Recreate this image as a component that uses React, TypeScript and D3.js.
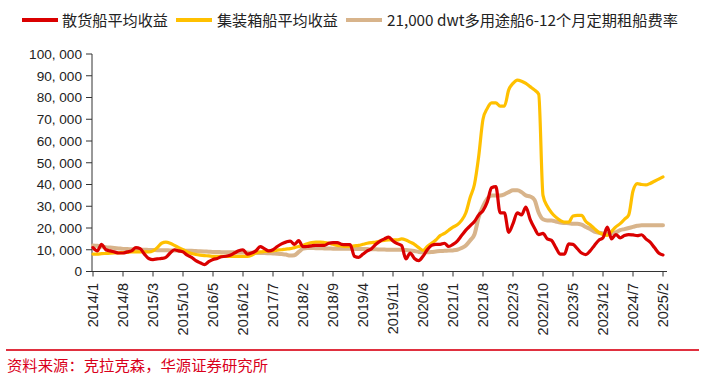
import React from "react";
import * as d3 from "d3";

const startYear = 2014;
const monthCount = 134;
const months: string[] = Array.from({ length: monthCount }, (_, i) => `${startYear + Math.floor(i / 12)}/${(i % 12) + 1}`);

const tickLabels = ["2014/1","2014/8","2015/3","2015/10","2016/5","2016/12","2017/7","2018/2","2018/9","2019/4","2019/11","2020/6","2021/1","2021/8","2022/3","2022/10","2023/5","2023/12","2024/7","2025/2"];
const yTicks = [0, 10000, 20000, 30000, 40000, 50000, 60000, 70000, 80000, 90000, 100000];

const seriesNames = ["散货船平均收益", "集装箱船平均收益", "21,000 dwt多用途船6-12个月定期租船费率"];

// values in thousand USD/day
const bulk = [
  11, 9.5, 12.5, 10, 9.5, 9, 8.5, 8.5, 9, 9.5, 11, 10.5,
  8, 6, 5.5, 5.8, 6, 6.5, 8.5, 10, 9.5, 9, 7.5, 6.5,
  5, 4, 3.2, 4.5, 5.5, 6, 6.8, 7, 7.5, 8.5, 9.5, 10,
  8, 8.5, 9.5, 11.4, 10.5, 9.5, 10, 11.5, 12.7, 13.5, 14, 12.5,
  14.2, 11.4, 11.5, 11.8, 12, 12, 12, 13, 13.3, 13.3, 12.5, 12.4,
  12.4, 7, 6.5, 8, 9.5, 10.5, 12.5, 14, 15, 15.8, 14, 12.8,
  12, 5.8, 8.5, 6, 5, 7, 10, 12, 12.5, 12.5, 13, 11.5,
  12.5, 14, 16.5, 19, 21, 23, 26, 28, 32, 38.5, 39, 27,
  27, 18, 22, 27, 26, 29.6, 24, 20, 17, 17.5, 15, 14.3,
  11, 8, 8, 12.7, 12.5, 10.5, 8.5, 7.8, 9.5, 12, 14.3, 15.5,
  20.4, 15, 17, 15.5, 16.5, 17, 16.8, 16.5, 16.9, 15, 13.5, 11,
  8.5, 7.6,
];

const container = [
  8, 8, 8.2, 8.3, 8.4, 8.5, 8.6, 8.7, 8.8, 9, 9, 9,
  9, 9, 9.5, 11, 13, 13.5, 13, 12, 11, 10, 9, 8.3,
  7.8, 7.5, 7.3, 7.2, 7, 7, 7, 7, 7, 7, 7, 7,
  7, 7.5, 8.5, 9, 9.2, 9.3, 9.5, 9.8, 10, 10.3, 10.5, 11,
  11.5, 12, 12.8, 13.3, 13.5, 13.5, 13.3, 13, 12.5, 12, 11.8, 11.5,
  11.5, 11.8, 12, 12.5, 13, 13.3, 13.5, 14, 14.3, 14.5, 14.5, 14.5,
  15, 14.5, 13.5, 12.5, 11, 9.7, 11.5, 13, 14.5, 16.5, 17.5, 19,
  20.4, 21.5, 23.5, 27, 34, 40, 53, 70, 75, 77.5, 77.5, 76,
  76, 83.5, 86.5, 88, 87.5, 86.5, 85, 83.5, 81.5, 35, 30, 27,
  25, 23.5, 22.7, 22.7, 25.5, 25.8, 25.8, 23, 21.5, 19.7, 18, 17,
  16.6, 18.5, 20.5, 22, 24, 26, 37, 40.4, 40, 39.8, 40.5, 41.5,
  42.5, 43.5,
];

const charter = [
  12, 11.8, 11.5, 11.2, 11, 10.8, 10.6, 10.4, 10.3, 10.2, 10.1, 10,
  10, 9.9, 9.9, 9.8, 9.8, 9.8, 9.7, 9.7, 9.6, 9.6, 9.5, 9.5,
  9.4, 9.3, 9.2, 9.1, 9, 9, 8.9, 8.9, 8.8, 8.8, 8.7, 8.7,
  8.7, 8.6, 8.6, 8.5, 8.5, 8.4, 8.3, 8.2, 8, 7.8, 7.3, 7.5,
  9, 10.5, 10.8, 10.8, 10.7, 10.7, 10.6, 10.6, 10.5, 10.5, 10.5, 10.5,
  10.5, 10.4, 10.4, 10.3, 10.3, 10.2, 10.2, 10.1, 10.1, 10, 10, 10,
  10, 9.9, 9.7, 9.4, 9, 8.9, 8.9, 9, 9.2, 9.4, 9.5, 9.6,
  9.7, 10, 10.8, 12, 14.3, 17, 25, 30, 33.5, 35, 35, 35,
  35.5, 36.5, 37.3, 37.3, 36.5, 35, 34.5, 33, 27, 24, 23.5, 23.5,
  23, 22.5, 22.3, 22.2, 22, 22, 21.5, 20.5, 19.5, 18.3, 17.8, 17.5,
  17.4, 17.5, 18, 19, 19.5, 20, 20.5, 21, 21.3, 21.3, 21.3, 21.3,
  21.3, 21.3,
];

const colors = ["#DA0000", "#FFC000", "#D8B48B"];
const widths = [3.2, 3.2, 4];

export default function App() {
  const W = 706, H = 379;
  const x = d3.scaleLinear().domain([0, monthCount - 1]).range([93, 663]);
  const y = d3.scaleLinear().domain([0, 100000]).range([271.5, 54]);
  const line = (vals: number[]) =>
    d3.line<number>().x((_, i) => x(i)).y((v) => y(v * 1000)).curve(d3.curveMonotoneX)(vals) || "";

  const series = [bulk, container, charter];
  const drawOrder = [2, 1, 0];

  const legendItems = [
    { lx: 22, tx: 62, tw: 106 },
    { lx: 176, tx: 217, tw: 121 },
    { lx: 346, tx: 387, tw: 291 },
  ];

  return (
    <svg width={W} height={H} style={{ position: "absolute", left: 0, top: 0, background: "#fff" }}
      fontFamily="'Liberation Sans', Arial, sans-serif">
      {/* legend */}
      {legendItems.map((it, k) => (
        <g key={k}>
          <line x1={it.lx} x2={it.lx + 36} y1={20} y2={20} stroke={colors[k]} strokeWidth={4} />
          <text x={it.tx} y={25.5} fontSize={15} fill="#222" textLength={it.tw} lengthAdjust="spacingAndGlyphs"
            fontFamily="'Noto Sans CJK SC', 'DejaVu Sans Mono', sans-serif">{seriesNames[k]}</text>
        </g>
      ))}
      {/* y axis */}
      <line x1={92} x2={92} y1={y(100000)} y2={y(0)} stroke="#333" strokeWidth={1} />
      {yTicks.map((t) => (
        <g key={t}>
          <line x1={86} x2={92} y1={y(t)} y2={y(t)} stroke="#333" strokeWidth={1} />
          <text x={82} y={y(t)} dy="0.36em" textAnchor="end" fontSize={13.6} fill="#222">
            {d3.format(",")(t).replace(/,/g, ", ")}
          </text>
        </g>
      ))}
      {/* x axis */}
      <line x1={92} x2={667} y1={y(0)} y2={y(0)} stroke="#333" strokeWidth={1} />
      {tickLabels.map((lab) => {
        const i = months.indexOf(lab);
        const px = x(i);
        return (
          <g key={lab}>
            <line x1={px} x2={px} y1={y(0)} y2={y(0) + 5} stroke="#333" strokeWidth={1} />
            <text transform={`translate(${px},${283}) rotate(-90)`} textAnchor="end" dy="0.36em" fontSize={14.5} fill="#222">
              {lab}
            </text>
          </g>
        );
      })}
      {/* lines */}
      {drawOrder.map((k) => (
        <path key={k} d={line(series[k])} fill="none" stroke={colors[k]} strokeWidth={widths[k]}
          strokeLinejoin="round" strokeLinecap="round" />
      ))}
      {/* footer */}
      <line x1={6} x2={699} y1={350} y2={350} stroke="#E0303F" strokeWidth={2} />
      <text x={7} y={371} fontSize={15} fill="#D9001B" textLength={261} lengthAdjust="spacingAndGlyphs"
        fontFamily="'Noto Sans CJK SC', sans-serif">资料来源：克拉克森，华源证券研究所</text>
    </svg>
  );
}
